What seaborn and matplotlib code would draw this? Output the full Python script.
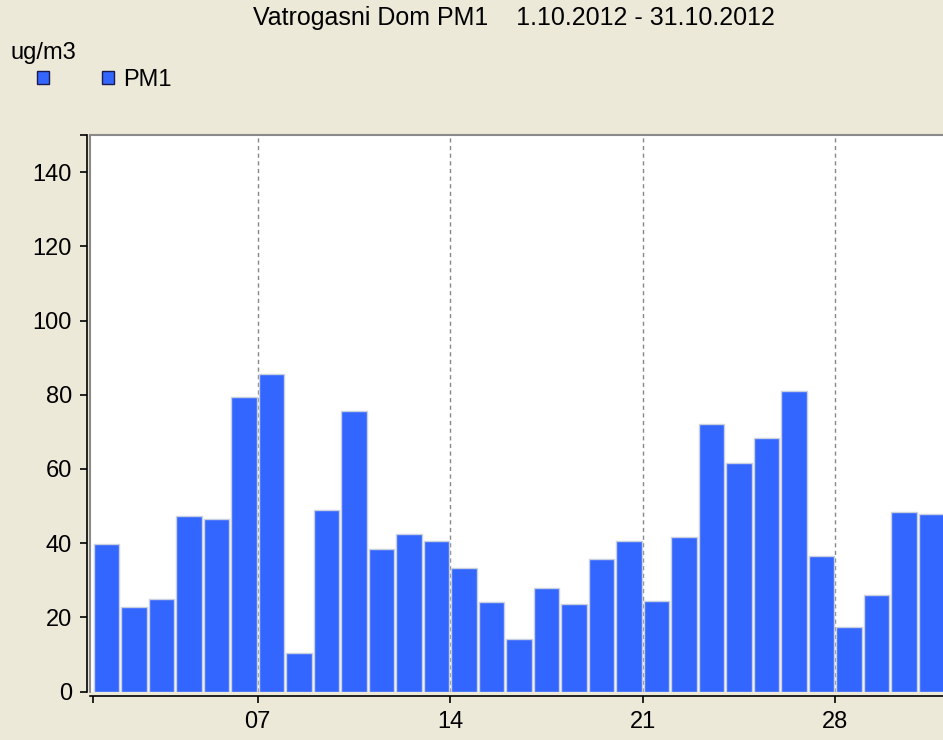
import pandas as pd
import seaborn as sns
import matplotlib.pyplot as plt
from matplotlib.patches import Patch

# Daily PM1 values, October 2012 (ug/m3)
days = list(range(1, 32))
pm1 = [39.7, 22.9, 24.9, 47.4, 46.6, 79.5, 85.6, 10.3, 48.9, 75.7,
       38.3, 42.4, 40.5, 33.2, 24.1, 14.1, 27.8, 23.7, 35.6, 40.5,
       24.5, 41.6, 72.2, 61.5, 68.4, 81.0, 36.6, 17.5, 25.9, 48.5, 47.8]

x_ticks = [1, 7, 14, 21, 28]
x_labels = ['', '07', '14', '21', '28']
week_lines = [7, 14, 21, 28]
y_ticks = [0, 20, 40, 60, 80, 100, 120, 140, 150]
y_labels = ['0', '20', '40', '60', '80', '100', '120', '140', '']

title = 'Vatrogasni Dom PM1    1.10.2012 - 31.10.2012'
unit = 'ug/m3'
series_name = 'PM1'

bg = '#ECE9D8'
bar_color = '#3366FF'
fs = 17

sns.set_style('white')
plt.rcParams['font.family'] = ['Liberation Sans', 'DejaVu Sans']
plt.rcParams['text.color'] = 'black'

df = pd.DataFrame({'day': days, 'pm1': pm1})
# bars span from the start of a day to the start of the next one
df['pos'] = df['day'] + 0.5

fig = plt.figure(figsize=(9.43, 7.40), dpi=100, facecolor=bg)
ax = fig.add_axes([0.0954, 0.0655, 0.9046, 0.752])

sns.barplot(data=df, x='pos', y='pm1', native_scale=True, width=0.92,
            color=bar_color, saturation=1, edgecolor='#c8d0e0', linewidth=1, ax=ax)

ax.set_xlim(0.9, 31.92)
ax.set_ylim(0, 150)
ax.set_xticks(x_ticks)
ax.set_xticklabels(x_labels)
ax.set_yticks(y_ticks)
ax.set_yticklabels(y_labels)
ax.set_xlabel('')
ax.set_ylabel('')

# dashed week separators behind the bars
ax.vlines(week_lines, 0, 150, colors='#888888', linestyles=(0, (3, 2.5)),
          linewidth=1, zorder=0)
ax.axvline(0.9, color='#8a8a8a', linewidth=1.5, clip_on=False)

ax.spines['right'].set_visible(False)
ax.spines['top'].set_color('#8a8a8a')
ax.spines['top'].set_linewidth(1.5)
ax.spines['left'].set_position(('outward', 2))
ax.spines['bottom'].set_position(('outward', 3.3))
for s in ['left', 'bottom']:
    ax.spines[s].set_color('black')
    ax.spines[s].set_linewidth(1.2)

ax.tick_params(axis='both', bottom=True, left=True, direction='out',
               length=5, width=1.2, labelsize=fs, colors='black')
ax.tick_params(axis='x', pad=6)
ax.tick_params(axis='y', pad=6)

fig.text(0.545, 0.9757, title, ha='center', va='center', fontsize=18)
fig.text(10 / 943, 1 - 53 / 740, unit, ha='left', va='center', fontsize=fs)

handles = [Patch(facecolor=bar_color, edgecolor='#1a1a50', linewidth=1),
           Patch(facecolor=bar_color, edgecolor='#1a1a50', linewidth=1)]
fig.legend(handles=handles, labels=['', series_name], ncol=2, loc='center left',
           bbox_to_anchor=(37 / 943, 1 - 80 / 740), frameon=False, fontsize=fs,
           handlelength=0.5, handleheight=0.5, handletextpad=0.4,
           columnspacing=1.85, borderaxespad=0, borderpad=0)

fig.savefig('out.png', dpi=100, facecolor=bg)
